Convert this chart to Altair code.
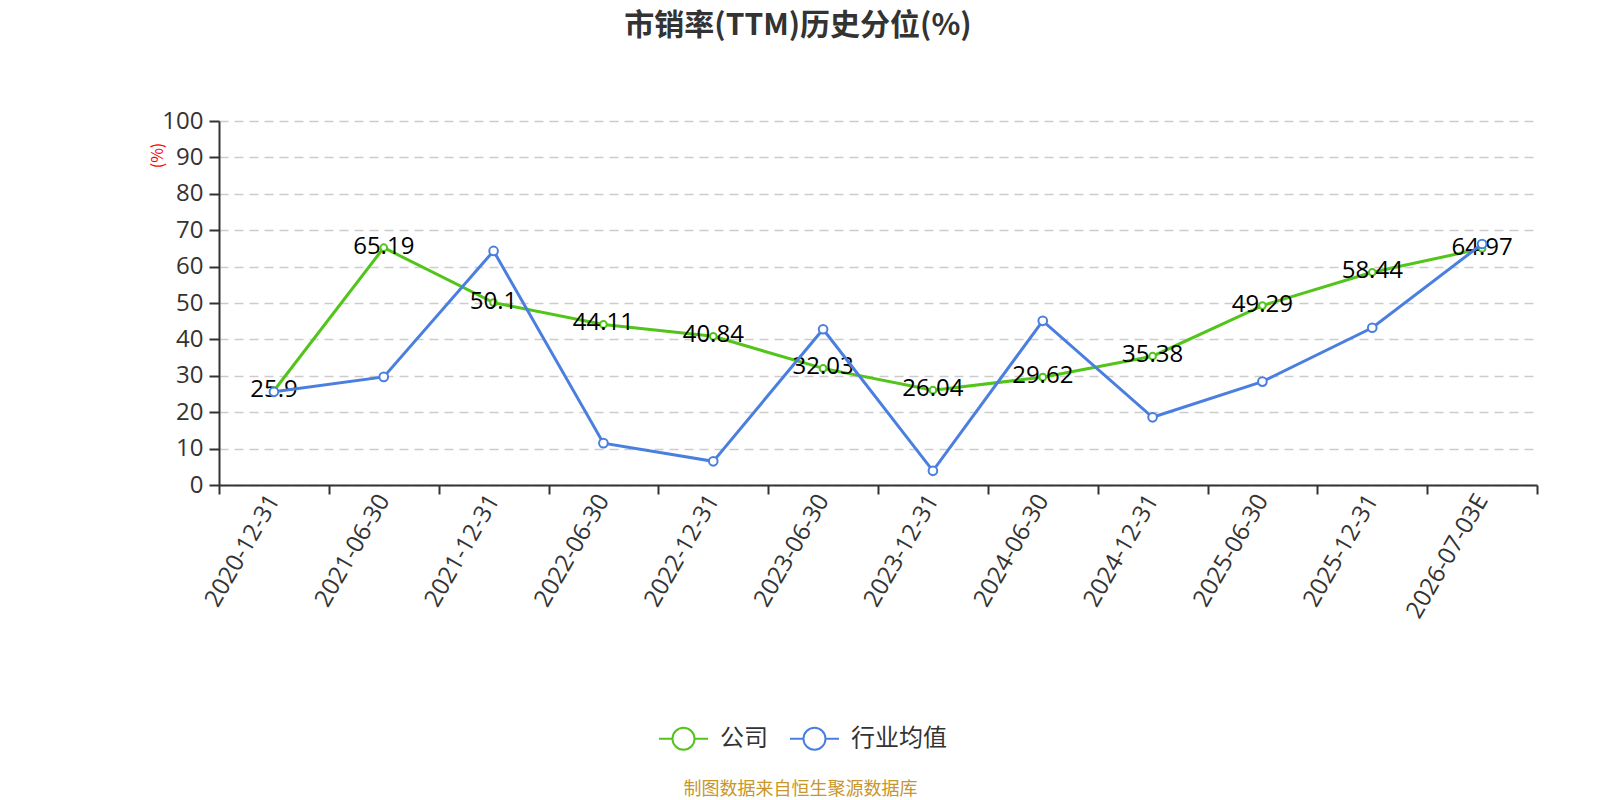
import altair as alt
import pandas as pd

dates = ["2020-12-31", "2021-06-30", "2021-12-31", "2022-06-30", "2022-12-31",
         "2023-06-30", "2023-12-31", "2024-06-30", "2024-12-31", "2025-06-30",
         "2025-12-31", "2026-07-03E"]
company = [25.9, 65.19, 50.1, 44.11, 40.84, 32.03, 26.04, 29.62, 35.38, 49.29, 58.44, 64.97]
industry = [25.6, 29.7, 64.3, 11.5, 6.5, 42.8, 3.9, 45.1, 18.6, 28.4, 43.2, 66.2]
series_names = ["公司", "行业均值"]
series_colors = ["#52c41a", "#4a7fe0"]

rows = []
for d, v in zip(dates, company):
    rows.append({"date": d, "value": v, "series": series_names[0], "label": f"{v:g}"})
for d, v in zip(dates, industry):
    rows.append({"date": d, "value": v, "series": series_names[1], "label": f"{v:g}"})
df = pd.DataFrame(rows)

FONT = "Noto Sans CJK SC"
NUMFONT = "Open Sans"

legend_path = ("M-1,0L-0.45,0M0.45,0L1,0"
               "M-0.45,0A0.45,0.45,0,1,0,0.45,0A0.45,0.45,0,1,0,-0.45,0")

x_enc = alt.X(
    "date:N", sort=dates,
    scale=alt.Scale(type="band", paddingInner=0, paddingOuter=0),
    axis=alt.Axis(
        title="制图数据来自恒生聚源数据库",
        titleColor="#c8962a", titleFont=FONT, titleFontSize=18, titleFontWeight="normal",
        titleX=581, titleY=304, titleAlign="center", titleBaseline="middle", titleAngle=0,
        labelAngle=-60, labelAlign="right", labelBaseline="middle",
        labelFont=NUMFONT, labelFontSize=24, labelColor="#333", labelPadding=2,
        tickBand="extent", tickSize=9, tickColor="#333", tickWidth=2,
        domainColor="#333", domainWidth=2, grid=False,
    ),
)
y_enc = alt.Y(
    "value:Q",
    scale=alt.Scale(domain=[0, 100], nice=False),
    axis=alt.Axis(
        title="(%)", titleColor="red", titleFont=FONT, titleFontSize=16,
        titleFontWeight="normal", titleAngle=-90, titleX=-62, titleY=34,
        titleAlign="center", titleBaseline="middle",
        values=list(range(0, 101, 10)),
        labelFont=NUMFONT, labelFontSize=24, labelColor="#333", labelPadding=6,
        tickSize=10, tickColor="#333", tickWidth=2,
        domainColor="#333", domainWidth=2,
        grid=True, gridColor="#cccccc", gridDash=[9, 6], gridWidth=1.5,
    ),
)
color_enc = alt.Color(
    "series:N",
    scale=alt.Scale(domain=series_names, range=series_colors),
    legend=alt.Legend(
        title=None, orient="none", direction="horizontal",
        legendX=439, legendY=592,
        symbolType=legend_path, symbolSize=2401, symbolStrokeWidth=2,
        symbolFillColor="white", symbolOpacity=1,
        labelFont=FONT, labelFontSize=24, labelColor="#333",
        labelOffset=11, columnPadding=18,
    ),
)

base = alt.Chart(df).encode(x=x_enc, y=y_enc, color=color_enc)

green = alt.datum.series == series_names[0]
blue = alt.datum.series == series_names[1]

g_line = base.transform_filter(green).mark_line(strokeWidth=3)
g_pts = base.transform_filter(green).mark_point(
    filled=False, fill="white", fillOpacity=1, strokeWidth=2, size=45, opacity=1)
g_txt = base.transform_filter(green).mark_text(
    font=NUMFONT, fontSize=24, color="black", baseline="middle", dy=-1
).encode(text="label:N", color=alt.value("black"))
b_line = base.transform_filter(blue).mark_line(strokeWidth=3)
b_pts = base.transform_filter(blue).mark_point(
    filled=False, fill="white", fillOpacity=1, strokeWidth=2, size=75, opacity=1)

chart = alt.layer(g_line, g_pts, g_txt, b_line, b_pts).properties(
    width=1318, height=364,
    title=alt.Title(
        "市销率(TTM)历史分位(%)", font=FONT, fontSize=30, fontWeight="bold",
        color="#333", anchor="middle", frame="group", dx=-80, offset=38,
        baseline="bottom",
    ),
    padding={"left": 211, "top": 113, "right": 40, "bottom": 318},
    autosize=alt.AutoSizeParams(type="none"),
).configure_view(stroke=None)

chart.save("out.html", embed_options={"renderer": "svg", "actions": False})
